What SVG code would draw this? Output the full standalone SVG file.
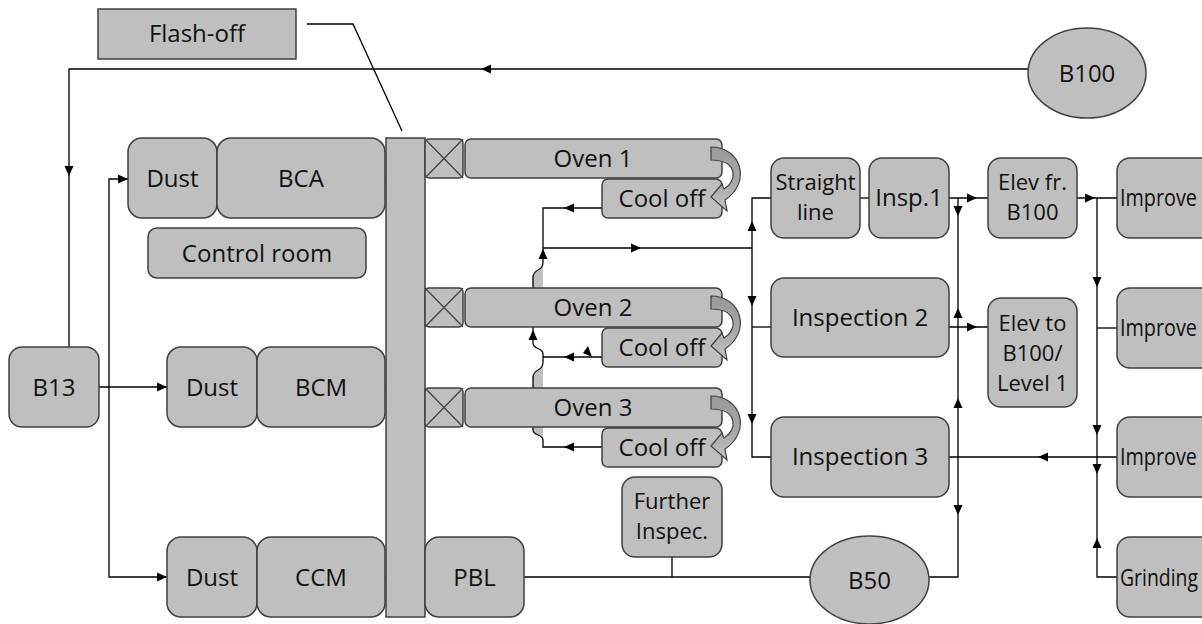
<svg xmlns="http://www.w3.org/2000/svg" xmlns:xlink="http://www.w3.org/1999/xlink" width="1202" height="624" viewBox="0 0 1202 624">
  <style>
    .n { fill: #bfbfbf; stroke: #404040; stroke-width: 1.5; }
    .x { fill: none; stroke: #404040; stroke-width: 1.2; }
    .t { font-family: "Open Sans", "Liberation Sans", sans-serif; font-size: 24px; fill: #111; text-anchor: middle; }
    .t2 { font-size: 22px; }
    .ts { text-anchor: start; }
    .c { fill: none; stroke: #000; stroke-width: 1.3; }
    .jump { fill: #bfbfbf; stroke: none; }
    .a { fill: #000; }
    .curl { fill: url(#curlShade); stroke: #404040; stroke-width: 1.2; }
  </style>
  <defs>
    <!-- arrowhead pointing right, tip at origin -->
    <path id="ah" d="M0,0 L-10,-4.5 L-10,4.5 Z"/>
    <linearGradient id="curlShade" x1="0" y1="0" x2="0" y2="1">
      <stop offset="0" stop-color="#999999"/>
      <stop offset="0.55" stop-color="#a8a8a8"/>
      <stop offset="1" stop-color="#c4c4c4"/>
    </linearGradient>
    <!-- curved return arrow from oven end into its cool-off section -->
    <path id="curl" d="M711,147 C741,147 752,182 725,200 L727,211 L711,197 L722,184 L724,189 C737,182 739,160 711,160 Z"/>
  </defs>

  <rect width="1202" height="624" fill="#fff"/>

  <!-- connectors -->
  <g id="connectors">
    <!-- return loop B100 -> B13 -->
    <path class="c" d="M69,347 V69 H1028"/>
    <use href="#ah" class="a" transform="translate(69,176) rotate(90)"/>
    <use href="#ah" class="a" transform="translate(481,69) rotate(180)"/>

    <!-- B13 feeds the dust cabins -->
    <path class="c" d="M99,387 H167"/>
    <use href="#ah" class="a" transform="translate(167,387)"/>
    <path class="c" d="M128,179 H109 V577 H167"/>
    <use href="#ah" class="a" transform="translate(128,179)"/>
    <use href="#ah" class="a" transform="translate(167,577)"/>

    <!-- booths into the flash-off conveyor -->
    <path class="c" d="M385,179 H405"/>
    <use href="#ah" class="a" transform="translate(404,179)"/>
    <path class="c" d="M385,387 H405"/>
    <use href="#ah" class="a" transform="translate(404,387)"/>
    <path class="c" d="M385,577 H405"/>
    <use href="#ah" class="a" transform="translate(404,577)"/>
    <path class="c" d="M425,577 H405"/>
    <use href="#ah" class="a" transform="translate(406,577) rotate(180)"/>

    <!-- conveyor spine and oven inlets -->
    <path class="c" d="M405,577 V158 H425"/>
    <use href="#ah" class="a" transform="translate(424,158)"/>
    <path class="c" d="M405,308 H425"/>
    <use href="#ah" class="a" transform="translate(424,308)"/>
    <path class="c" d="M405,407 H425"/>
    <use href="#ah" class="a" transform="translate(424,407)"/>
    <use href="#ah" class="a" transform="translate(405,221) rotate(-90)"/>
    <use href="#ah" class="a" transform="translate(405,256) rotate(90)"/>
    <use href="#ah" class="a" transform="translate(405,489) rotate(-90)"/>

    <!-- cool-off collector with line jumps behind ovens 2 and 3 -->
    <path class="jump" d="M543,262 C543,272 533,268 533,278 V288 H543 Z"/>
    <path class="jump" d="M543,362 C543,372 533,368 533,378 V388 H543 Z"/>
    <path class="jump" d="M533,427 V430 C533,436 543,434 543,440 V427 Z"/>
    <path class="c" d="M602,208 H543 V262 C543,272 533,268 533,278 V343 C533,350 543,347 543,354 V362 C543,372 533,368 533,378 V430 C533,436 543,434 543,440 V447 H602"/>
    <path class="c" d="M602,357 H543"/>
    <use href="#ah" class="a" transform="translate(564,208) rotate(180)"/>
    <use href="#ah" class="a" transform="translate(564,357) rotate(180)"/>
    <use href="#ah" class="a" transform="translate(564,447) rotate(180)"/>
    <polygon class="a" points="583,353 592,357 588,346"/>
    <use href="#ah" class="a" transform="translate(543,249) rotate(-90)"/>
    <use href="#ah" class="a" transform="translate(533,330) rotate(-90)"/>

    <!-- to the inspection lines -->
    <path class="c" d="M543,248 H752"/>
    <use href="#ah" class="a" transform="translate(641,248)"/>
    <path class="c" d="M771,198 H752 V457 H771"/>
    <path class="c" d="M752,327 H771"/>
    <use href="#ah" class="a" transform="translate(752,221) rotate(-90)"/>
    <use href="#ah" class="a" transform="translate(752,306) rotate(90)"/>
    <use href="#ah" class="a" transform="translate(752,424) rotate(90)"/>

    <path class="c" d="M860,198 H869"/>
    <path class="c" d="M949,198 H988"/>
    <use href="#ah" class="a" transform="translate(977,198)"/>
    <path class="c" d="M949,327 H988"/>
    <use href="#ah" class="a" transform="translate(977,327)"/>

    <!-- B50 riser -->
    <path class="c" d="M958,198 V577 H929"/>
    <use href="#ah" class="a" transform="translate(958,216) rotate(90)"/>
    <use href="#ah" class="a" transform="translate(958,308) rotate(-90)"/>
    <use href="#ah" class="a" transform="translate(958,398) rotate(-90)"/>
    <use href="#ah" class="a" transform="translate(958,515) rotate(90)"/>

    <!-- PBL to B50, with further inspection tap -->
    <path class="c" d="M524,577 H810"/>
    <path class="c" d="M672,557 V577"/>

    <!-- improvement / grinding column -->
    <path class="c" d="M1077,198 H1117"/>
    <use href="#ah" class="a" transform="translate(1095,198)"/>
    <path class="c" d="M1097,198 V577 H1117"/>
    <path class="c" d="M1097,328 H1117"/>
    <path class="c" d="M1117,457 H949"/>
    <use href="#ah" class="a" transform="translate(1038,457) rotate(180)"/>
    <use href="#ah" class="a" transform="translate(1097,287) rotate(90)"/>
    <use href="#ah" class="a" transform="translate(1097,435) rotate(90)"/>
    <use href="#ah" class="a" transform="translate(1097,474) rotate(90)"/>
    <use href="#ah" class="a" transform="translate(1097,538) rotate(-90)"/>

    <!-- flash-off callout -->
    <path class="c" d="M307,24 H353 L402,131" stroke-width="1"/>
  </g>

  <!-- nodes -->
  <g id="flash-off">
    <rect class="n" x="98" y="9" width="198" height="50"/>
    <text class="t" x="197" y="42">Flash-off</text>
  </g>
  <g id="b100">
    <ellipse class="n" cx="1087" cy="73" rx="59" ry="45"/>
    <text class="t" x="1087" y="82">B100</text>
  </g>
  <g id="b13">
    <rect class="n" x="9" y="347" width="90" height="80" rx="13"/>
    <text class="t" x="54" y="396">B13</text>
  </g>
  <g id="dust-bca">
    <rect class="n" x="128" y="138" width="89" height="80" rx="14"/>
    <text class="t" x="172.5" y="187">Dust</text>
  </g>
  <g id="bca">
    <rect class="n" x="217" y="138" width="168" height="80" rx="14"/>
    <text class="t" x="301" y="187">BCA</text>
  </g>
  <g id="control-room">
    <rect class="n" x="148" y="228" width="218" height="50" rx="9"/>
    <text class="t" x="257" y="262">Control room</text>
  </g>
  <g id="dust-bcm">
    <rect class="n" x="167" y="347" width="90" height="80" rx="14"/>
    <text class="t" x="212" y="396">Dust</text>
  </g>
  <g id="bcm">
    <rect class="n" x="257" y="347" width="128" height="80" rx="14"/>
    <text class="t" x="321" y="396">BCM</text>
  </g>
  <g id="dust-ccm">
    <rect class="n" x="167" y="537" width="90" height="80" rx="14"/>
    <text class="t" x="212" y="586">Dust</text>
  </g>
  <g id="ccm">
    <rect class="n" x="257" y="537" width="128" height="80" rx="14"/>
    <text class="t" x="321" y="586">CCM</text>
  </g>
  <g id="conveyor">
    <rect class="n" x="386" y="138" width="39" height="479"/>
  </g>
  <g id="pbl">
    <rect class="n" x="425" y="537" width="99" height="80" rx="14"/>
    <text class="t" x="474.5" y="586">PBL</text>
  </g>

  <g id="oven-1">
    <rect class="n" x="425" y="139" width="38" height="39" rx="4"/>
    <path class="x" d="M425,139 L463,178 M463,139 L425,178"/>
    <rect class="n" x="465" y="139" width="257" height="39" rx="6"/>
    <text class="t" x="593" y="167">Oven 1</text>
  </g>
  <g id="cool-off-1">
    <rect class="n" x="602" y="179" width="120" height="39" rx="6"/>
    <text class="t" x="662" y="207">Cool off</text>
    <use href="#curl" class="curl"/>
  </g>
  <g id="oven-2">
    <rect class="n" x="425" y="288" width="38" height="39" rx="4"/>
    <path class="x" d="M425,288 L463,327 M463,288 L425,327"/>
    <rect class="n" x="465" y="288" width="257" height="39" rx="6"/>
    <text class="t" x="593" y="316">Oven 2</text>
  </g>
  <g id="cool-off-2">
    <rect class="n" x="602" y="328" width="120" height="39" rx="6"/>
    <text class="t" x="662" y="356">Cool off</text>
    <use href="#curl" class="curl" transform="translate(0,149)"/>
  </g>
  <g id="oven-3">
    <rect class="n" x="425" y="388" width="38" height="39" rx="4"/>
    <path class="x" d="M425,388 L463,427 M463,388 L425,427"/>
    <rect class="n" x="465" y="388" width="257" height="39" rx="6"/>
    <text class="t" x="593" y="416">Oven 3</text>
  </g>
  <g id="cool-off-3">
    <rect class="n" x="602" y="428" width="120" height="39" rx="6"/>
    <text class="t" x="662" y="456">Cool off</text>
    <use href="#curl" class="curl" transform="translate(0,249)"/>
  </g>

  <g id="further-inspec">
    <rect class="n" x="622" y="477" width="100" height="80" rx="13"/>
    <text class="t t2" x="672" y="509">Further</text>
    <text class="t t2" x="672" y="539">Inspec.</text>
  </g>
  <g id="straight-line">
    <rect class="n" x="771" y="158" width="89" height="80" rx="13"/>
    <text class="t t2" x="815.5" y="190">Straight</text>
    <text class="t t2" x="815.5" y="220">line</text>
  </g>
  <g id="insp-1">
    <rect class="n" x="869" y="158" width="80" height="80" rx="13"/>
    <text class="t" x="909" y="206">Insp.1</text>
  </g>
  <g id="elev-fr-b100">
    <rect class="n" x="988" y="158" width="89" height="80" rx="13"/>
    <text class="t t2" x="1032.5" y="190">Elev fr.</text>
    <text class="t t2" x="1032.5" y="220">B100</text>
  </g>
  <g id="inspection-2">
    <rect class="n" x="771" y="278" width="178" height="79" rx="13"/>
    <text class="t" x="860" y="326">Inspection 2</text>
  </g>
  <g id="elev-to-b100">
    <rect class="n" x="988" y="298" width="89" height="109" rx="13"/>
    <text class="t t2" x="1032.5" y="331">Elev to</text>
    <text class="t t2" x="1032.5" y="361">B100/</text>
    <text class="t t2" x="1032.5" y="391">Level 1</text>
  </g>
  <g id="inspection-3">
    <rect class="n" x="771" y="417" width="178" height="80" rx="13"/>
    <text class="t" x="860" y="465">Inspection 3</text>
  </g>
  <g id="b50">
    <ellipse class="n" cx="869.5" cy="580" rx="59.5" ry="44"/>
    <text class="t" x="869.5" y="589">B50</text>
  </g>
  <g id="improve-1">
    <rect class="n" x="1117" y="158" width="110" height="80" rx="13"/>
    <text class="t ts" x="1120" y="206" textLength="77" lengthAdjust="spacingAndGlyphs">Improve</text>
  </g>
  <g id="improve-2">
    <rect class="n" x="1117" y="288" width="110" height="80" rx="13"/>
    <text class="t ts" x="1120" y="336" textLength="77" lengthAdjust="spacingAndGlyphs">Improve</text>
  </g>
  <g id="improve-3">
    <rect class="n" x="1117" y="417" width="110" height="80" rx="13"/>
    <text class="t ts" x="1120" y="465" textLength="77" lengthAdjust="spacingAndGlyphs">Improve</text>
  </g>
  <g id="grinding">
    <rect class="n" x="1117" y="537" width="110" height="80" rx="13"/>
    <text class="t ts" x="1120" y="586" textLength="78" lengthAdjust="spacingAndGlyphs">Grinding</text>
  </g>
</svg>
